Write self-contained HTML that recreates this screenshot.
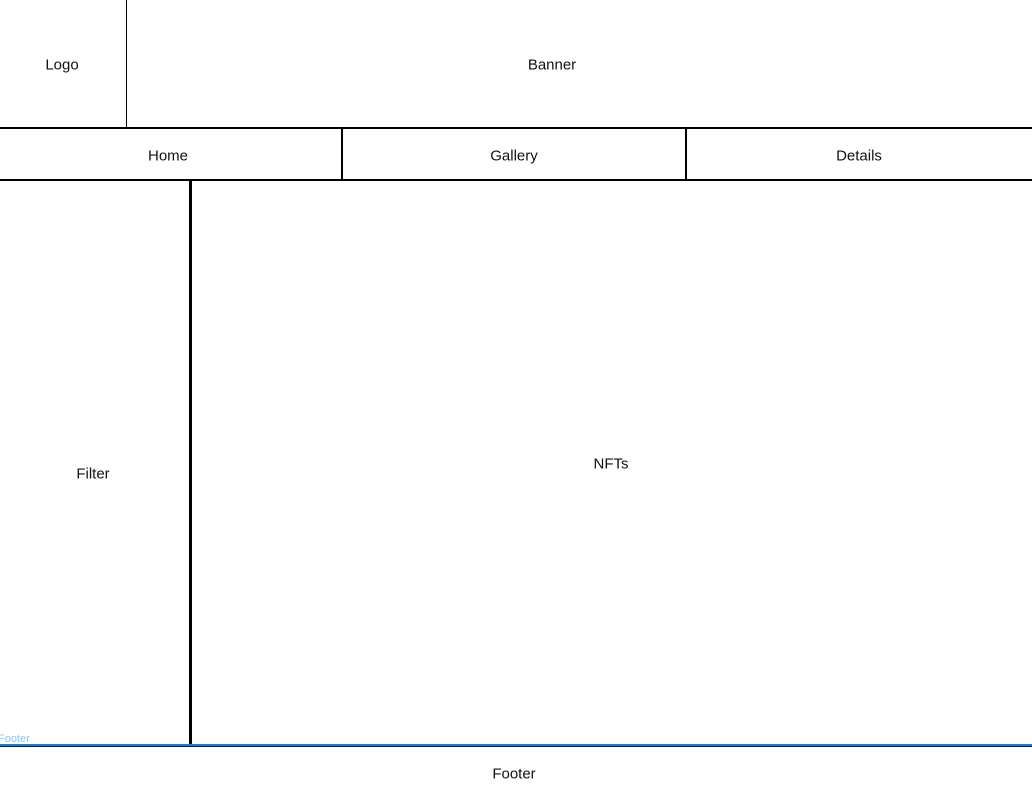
<!DOCTYPE html>
<html><head><style>
body{margin:0;width:1032px;height:797px;background:#fff;position:relative;overflow:hidden;font-family:"Liberation Sans",sans-serif;font-size:15px;color:#111}
.l{position:absolute;background:#000}
.t{position:absolute;transform:translate(-50%,-50%);white-space:nowrap}
</style></head><body>
<div class="l" style="left:126px;top:0;width:1px;height:128px"></div>
<div class="l" style="left:0;top:127px;width:1032px;height:2px"></div>
<div class="l" style="left:341px;top:128px;width:2px;height:52px"></div>
<div class="l" style="left:685px;top:128px;width:2px;height:52px"></div>
<div class="l" style="left:0;top:179px;width:1032px;height:2px"></div>
<div class="l" style="left:189px;top:180px;width:3px;height:566px"></div>
<div class="l" style="left:0;top:744px;width:1032px;height:2px;background:#1a7fd0"></div>
<div class="l" style="left:0;top:746px;width:1032px;height:1px;background:#123"></div>
<div class="t" style="left:62px;top:65px">Logo</div>
<div class="t" style="left:552px;top:65px">Banner</div>
<div class="t" style="left:168px;top:156px">Home</div>
<div class="t" style="left:514px;top:156px">Gallery</div>
<div class="t" style="left:859px;top:156px">Details</div>
<div class="t" style="left:93px;top:474px">Filter</div>
<div class="t" style="left:611px;top:464px">NFTs</div>
<div class="t" style="left:514px;top:774px">Footer</div>
<div style="position:absolute;left:-2px;top:733px;font-size:11px;color:#8cc6f0">Footer</div>
</body></html>
